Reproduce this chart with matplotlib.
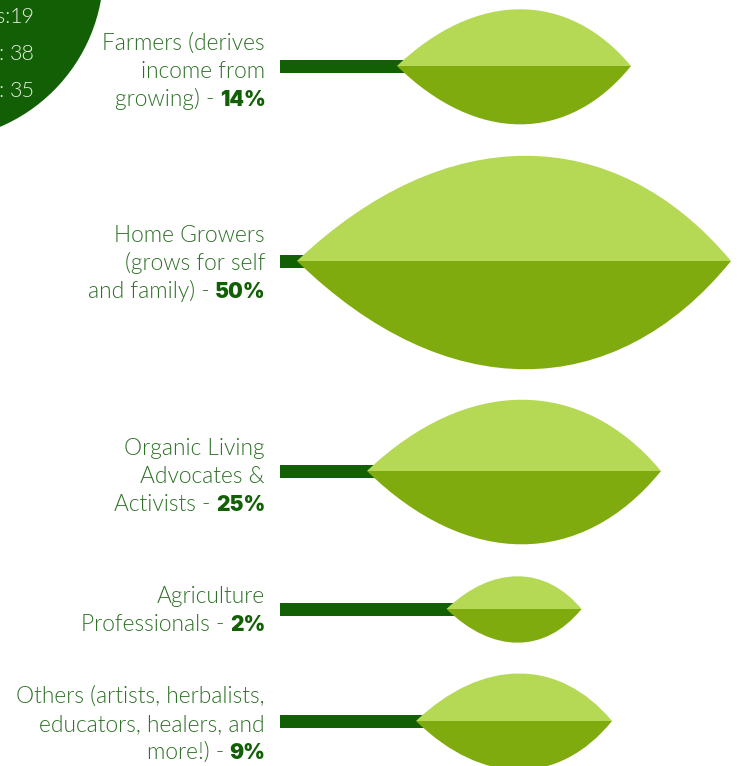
import matplotlib
matplotlib.use('Agg')
import matplotlib.pyplot as plt
from matplotlib.patches import PathPatch, Circle, Rectangle
from matplotlib.path import Path

# Values
label_lines = [
    ['Farmers (derives', 'income from', 'growing) - '],
    ['Home Growers', '(grows for self', 'and family) - '],
    ['Organic Living', 'Advocates &', 'Activists - '],
    ['Agriculture', 'Professionals - '],
    ['Others (artists, herbalists,', 'educators, healers, and', 'more!) - '],
]
percents = [14, 50, 25, 2, 9]
leaf_widths = [234, 434, 294, 135, 196]
leaf_rows = [66, 261, 471, 609, 721]
label_baselines = [50, 242, 455, 603, 703]
circle_prefixes = ['s:', ':', ':']
circle_values = [19, 38, 35]
circle_prefix_ends = [10, 4, 4]

DARK = '#125f06'
LIGHT_LEAF = '#b5d955'
DARK_LEAF = '#7fab0e'
TEXT = '#2f7028'
FONT = 'Lato'
SIZE = 16.4

fig = plt.figure(figsize=(7.4, 7.66), dpi=100)
ax = fig.add_axes([0, 0, 1, 1])
ax.set_xlim(0, 740)
ax.set_ylim(766, 0)
ax.axis('off')


def half_leaf(left, right, y, h):
    # pointed lens half, sign of h picks the side
    w = right - left
    verts = [(left, y), (left + 0.34 * w, y - h * 1.33), (right - 0.27 * w, y - h * 1.33),
             (right, y), (left, y)]
    codes = [Path.MOVETO, Path.CURVE4, Path.CURVE4, Path.CURVE4, Path.CLOSEPOLY]
    return Path(verts, codes)


# corner circle
ax.add_patch(Circle((-67, -30), 170.6, color=DARK, lw=0))
for i, (prefix, val, end) in enumerate(zip(circle_prefixes, circle_values, circle_prefix_ends)):
    yy = 23 + i * 37
    ax.text(34.5, yy, str(val), ha='right', va='baseline', fontsize=15.5, color='#e6eee0',
            family=FONT, fontweight=300)
    ax.text(end, yy, prefix, ha='right', va='baseline', fontsize=15.5, color='#e6eee0',
            family=FONT, fontweight=300)

fig.canvas.draw()
renderer = fig.canvas.get_renderer()

for lines, pct, width, y, base in zip(label_lines, percents, leaf_widths, leaf_rows, label_baselines):
    left = 514 - width / 2
    right = 514 + width / 2
    ax.add_patch(Rectangle((280, y - 6.5), left + 10 - 280, 13, color=DARK, lw=0))
    ax.add_patch(PathPatch(half_leaf(left, right, y, 0.243 * width), fc=LIGHT_LEAF, lw=0))
    ax.add_patch(PathPatch(half_leaf(left, right, y, -0.25 * width), fc=DARK_LEAF, lw=0))

    for j, line in enumerate(lines):
        yy = base + j * 28
        if j == len(lines) - 1:
            bold = ax.text(265.5, yy, f'{pct}%', ha='right', va='baseline', fontsize=15,
                           color=DARK, family='Inter', fontweight=900)
            bb = bold.get_window_extent(renderer)
            ax.text(265 - bb.width - 5, yy, line.rstrip(), ha='right', va='baseline', fontsize=SIZE,
                    color=TEXT, family=FONT, fontweight=300)
        else:
            ax.text(265, yy, line, ha='right', va='baseline', fontsize=SIZE, color=TEXT,
                    family=FONT, fontweight=300)

fig.savefig('out.png', dpi=100)
